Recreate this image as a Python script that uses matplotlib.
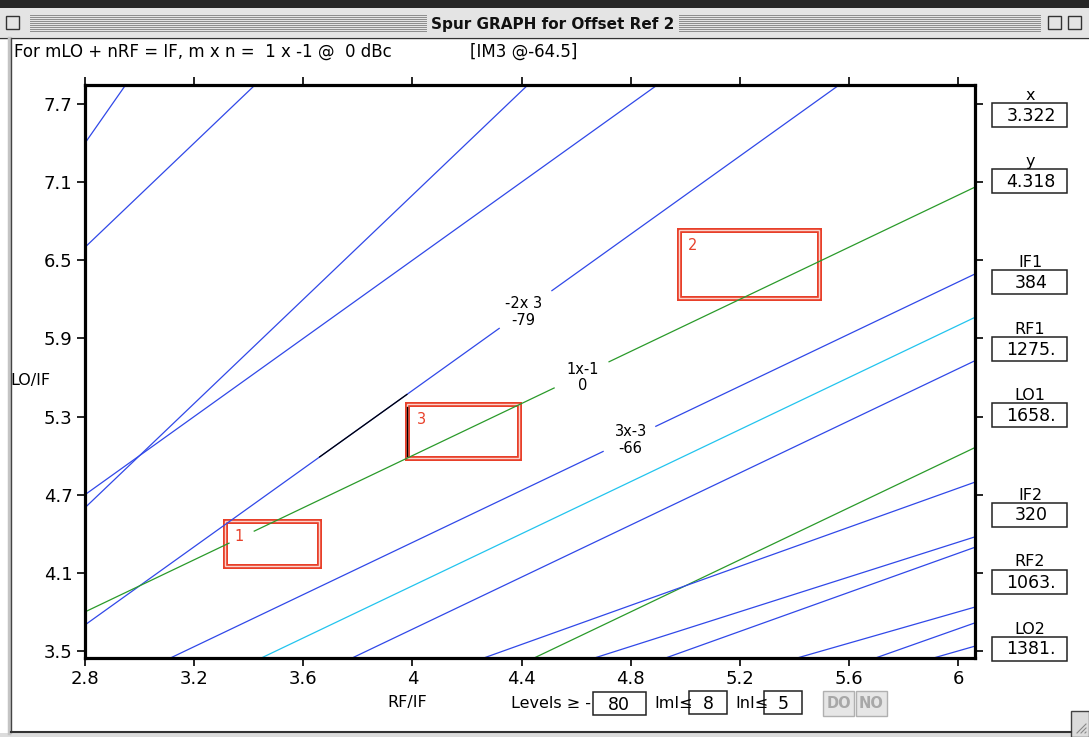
import numpy as np
import matplotlib
matplotlib.use("Agg")
import matplotlib.pyplot as plt
from matplotlib.patches import Rectangle

W, H = 1089, 737

# spur lines: LO/IF = slope * RF/IF + icpt
spur_slope = [3.0, 2.0, 2.0, 1.5, 1.5, 1.0, 1.0, 1.0, 1.0, 1.0, 0.75, 0.667, 0.75, 0.6, 0.74, 0.6]
spur_icpt = [-1.0, 1.0, -1.0, 0.5, -0.5, 1.0, 0.333, 0.0, -0.333, -1.0, 0.25, 0.333, -0.25, 0.2, -0.77, -0.1]
spur_color = ["b", "b", "b", "b", "b", "g", "b", "c", "b", "g", "b", "b", "b", "b", "b", "b"]
# label gaps along RF/IF
spur_gap = {4: [(4.32, 4.51)], 5: [(3.33, 3.42), (4.52, 4.72)], 6: [(4.70, 4.89)]}
spur_labels = [("-2x 3", "-79", 4.407, 6.10), ("1x-1", "0", 4.624, 5.60), ("3x-3", "-66", 4.80, 5.12)]
black_seg = (3.66, 3.98)   # part of the -2x3 line drawn in black

# marker boxes
box_x0 = [3.314, 4.976, 3.982]
box_x1 = [3.659, 5.490, 4.389]
box_y0 = [4.152, 6.213, 4.980]
box_y1 = [4.497, 6.734, 5.393]
box_name = ["1", "2", "3"]

xticks = [2.8, 3.2, 3.6, 4.0, 4.4, 4.8, 5.2, 5.6, 6.0]
xticklabels = ["2.8", "3.2", "3.6", "4", "4.4", "4.8", "5.2", "5.6", "6"]
yticks = [3.5, 4.1, 4.7, 5.3, 5.9, 6.5, 7.1, 7.7]
yticklabels = ["3.5", "4.1", "4.7", "5.3", "5.9", "6.5", "7.1", "7.7"]

panel_names = ["x", "y", "IF1", "RF1", "LO1", "IF2", "RF2", "LO2"]
panel_values = ["3.322", "4.318", "384", "1275.", "1658.", "320", "1063.", "1381."]
panel_top = [103, 169, 270, 337, 403, 503, 570, 637]

header = "For mLO + nRF = IF, m x n =  1 x -1 @  0 dBc"
header2 = "[IM3 @-64.5]"
title = "Spur GRAPH for Offset Ref 2"

colors = {"b": "#3048e8", "g": "#2a9a2a", "c": "#22c4ee"}

fig = plt.figure(figsize=(W / 100, H / 100), dpi=100)
fig.patch.set_facecolor("white")

# window chrome in pixel coordinates
ov = fig.add_axes([0, 0, 1, 1])
ov.set_xlim(0, W)
ov.set_ylim(H, 0)
ov.axis("off")
ov.add_patch(Rectangle((0, 0), W, 8, color="#262626", lw=0))
ov.add_patch(Rectangle((0, 8), W, 29, color="#e4e4e4", lw=0))
for yy in range(15, 33, 2):
    ov.plot([30, 426], [yy, yy], color="#8c8c8c", lw=0.7)
    ov.plot([679, 1040], [yy, yy], color="#8c8c8c", lw=0.7)
ov.add_patch(Rectangle((6, 16), 13, 13, fill=False, ec="#333333", lw=1))
ov.add_patch(Rectangle((1048, 16), 13, 13, fill=False, ec="#333333", lw=1))
ov.add_patch(Rectangle((1068, 16), 13, 13, fill=False, ec="#333333", lw=1))
ov.text(553, 24, title, ha="center", va="center", fontsize=11, fontweight="bold",
        color="#111111")
ov.plot([0, W], [37.5, 37.5], color="#333333", lw=1)
ov.plot([9, 9], [38, 733], color="#c4c4c4", lw=2.5)
ov.plot([11, 11], [38, 732], color="#444444", lw=1)
ov.add_patch(Rectangle((0, 733), W, 4, color="#dcdcdc", lw=0))
ov.plot([11, 1071], [732, 732], color="#333333", lw=1.5)
# resize grip
ov.add_patch(Rectangle((1071, 711), 18, 26, fc="#dcdcdc", ec="#444444", lw=1))
for d in range(0, 12, 4):
    ov.plot([1077 + d, 1086], [733, 724 + d], color="#888888", lw=0.8)

ov.text(14, 52, header, ha="left", va="center", fontsize=12)
ov.text(470, 52, header2, ha="left", va="center", fontsize=12)

# side panel
for name, val, top in zip(panel_names, panel_values, panel_top):
    ov.add_patch(Rectangle((992, top), 75, 24, fill=False, ec="#222222", lw=1.1))
    ov.text(1031, top + 12.5, val, ha="center", va="center", fontsize=12.5)
    ov.text(1030, top - 8, name, ha="center", va="center", fontsize=11.5)

# bottom controls
ov.text(407, 703, "RF/IF", ha="center", va="center", fontsize=11.5)
ov.text(511, 703, "Levels \u2265 -", ha="left", va="center", fontsize=11.5)
ov.add_patch(Rectangle((593, 692), 53, 23, fill=False, ec="#222222", lw=1.1))
ov.text(619, 705, "80", ha="center", va="center", fontsize=12.5)
ov.text(654, 703, "ImI\u2264", ha="left", va="center", fontsize=11.5)
ov.add_patch(Rectangle((689, 691), 38, 23, fill=False, ec="#222222", lw=1.1))
ov.text(708, 704, "8", ha="center", va="center", fontsize=12.5)
ov.text(735, 703, "InI\u2264", ha="left", va="center", fontsize=11.5)
ov.add_patch(Rectangle((764, 691), 38, 23, fill=False, ec="#222222", lw=1.1))
ov.text(783, 704, "5", ha="center", va="center", fontsize=12.5)
for bx, lab in [(823, "DO"), (856, "NO")]:
    ov.add_patch(Rectangle((bx, 691), 31, 25, fc="#e6e6e6", ec="#b0b0b0", lw=1))
    ov.text(bx + 15.5, 703.5, lab, ha="center", va="center", fontsize=10.5,
            fontweight="bold", color="#a8a8a8")
ov.text(30, 380, "LO/IF", ha="center", va="center", fontsize=11.5)

# plot area
ax = fig.add_axes([85 / W, 1 - 658 / H, 890 / W, 573 / H])
ax.set_xlim(2.8, 6.062)
ax.set_ylim(3.446, 7.846)
x = np.linspace(2.8, 6.062, 1200)
for i, (s, b, c) in enumerate(zip(spur_slope, spur_icpt, spur_color)):
    y = s * x + b
    for g0, g1 in spur_gap.get(i, []):
        y = np.where((x > g0) & (x < g1), np.nan, y)
    ax.plot(x, y, color=colors[c], lw=0.9)

xb = np.linspace(black_seg[0], black_seg[1], 50)
ax.plot(xb, spur_slope[4] * xb + spur_icpt[4], color="black", lw=0.9)

for t1, t2, tx, ty in spur_labels:
    ax.text(tx, ty, t1 + "\n" + t2, ha="center", va="center", fontsize=10.5,
            linespacing=1.15)

for x0, x1, y0, y1, nm in zip(box_x0, box_x1, box_y0, box_y1, box_name):
    r = Rectangle((x0, y0), x1 - x0, y1 - y0, fill=False, ec="#e8402a", lw=3.6)
    ax.add_patch(r)
    r2 = Rectangle((x0, y0), x1 - x0, y1 - y0, fill=False, ec="#fbd4cc", lw=1.0)
    ax.add_patch(r2)
    ax.text(x0 + 0.035, y1 - 0.06, nm, ha="left", va="top", fontsize=10.5, color="#e8402a")
ax.plot([box_x0[2], box_x0[2]], [box_y0[2] + 0.02, box_y1[2] - 0.02], color="black", lw=1)

ax.set_xticks(xticks)
ax.set_xticklabels(xticklabels)
ax.set_yticks(yticks)
ax.set_yticklabels(yticklabels)
ax.tick_params(direction="out", length=6, width=1.2, top=True, right=True,
               labelsize=13, pad=3)
for sp in ax.spines.values():
    sp.set_linewidth(2.3)

fig.savefig("out.png", dpi=100)
